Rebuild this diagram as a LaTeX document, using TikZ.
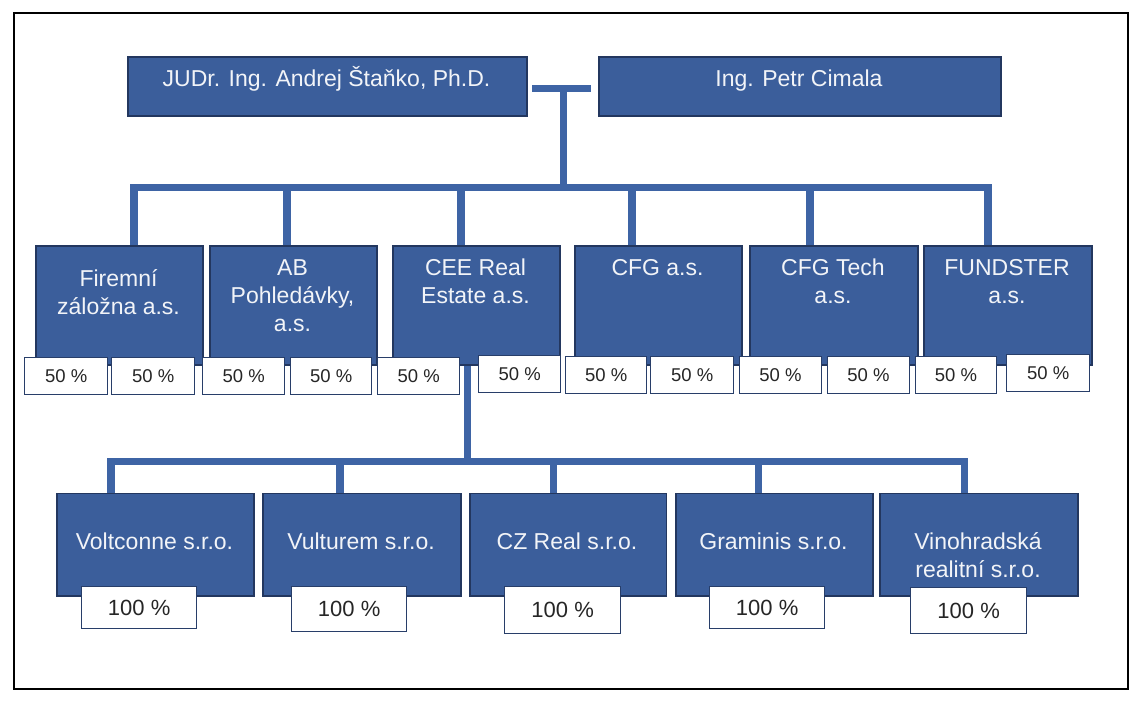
\documentclass[tikz,border=0pt]{standalone}
\usepackage{fontspec}
\setmainfont{Liberation Sans}
\definecolor{boxblue}{RGB}{59,94,155}
\definecolor{boxedge}{RGB}{35,55,95}
\definecolor{linkblue}{RGB}{62,100,165}
\definecolor{pctedge}{RGB}{40,62,105}
\definecolor{txtwhite}{RGB}{242,244,248}

\begin{document}
\begin{tikzpicture}[x=1pt,y=1pt,yscale=-1,xscale=1,
  corp/.style={draw=boxedge,fill=boxblue,line width=1.5pt,anchor=north west,inner sep=0pt},
  corptext/.style={text=txtwhite,anchor=base,align=center,inner sep=0pt,font=\fontsize{23}{28.3}\selectfont},
  pct/.style={draw=pctedge,fill=white,line width=1.3pt,anchor=north west,inner sep=0pt,text=black!85,font=\fontsize{18.5}{20}\selectfont},
  pctbig/.style={pct,font=\fontsize{22}{24}\selectfont},
  link/.style={draw=linkblue,line width=7.5pt}]
\useasboundingbox (0,0) rectangle (1148,712);

%Frame
\draw [line width=2.7pt] (14,13) rectangle (1128,689);

%Connector points
\coordinate (tL) at (532,88.5);
\coordinate (tR) at (591,88.5);
\coordinate (tM) at (563.5,88.5);
\coordinate (bA) at (134,187.5);
\coordinate (bB) at (287,187.5);
\coordinate (bC) at (461,187.5);
\coordinate (bD) at (632,187.5);
\coordinate (bE) at (810,187.5);
\coordinate (bF) at (988,187.5);
\coordinate (dC) at (467.5,461.5);
\coordinate (lA) at (111,461.5);
\coordinate (lB) at (340,461.5);
\coordinate (lC) at (553.5,461.5);
\coordinate (lD) at (758.5,461.5);
\coordinate (lE) at (964.5,461.5);

%Owners
\node [corp,minimum width=399pt,minimum height=59pt] (stanko) at (127,56) {};
\node [corp,minimum width=402pt,minimum height=59pt] (cimala) at (598,56) {};
% Text Node
\node [corptext] (stankoT) at (326.5,86.7) {JUDr. Ing. Andrej Štaňko, Ph.D.};
% Text Node
\node [corptext] (cimalaT) at (799,86.7) {Ing. Petr Cimala};

%Companies a.s.
\node [corp,minimum width=167pt,minimum height=119pt] (firemni) at (35,245) {};
\node [corp,minimum width=167pt,minimum height=119pt] (ab) at (209,245) {};
\node [corp,minimum width=167pt,minimum height=119pt] (cee) at (392,245) {};
\node [corp,minimum width=167pt,minimum height=119pt] (cfg) at (574,245) {};
\node [corp,minimum width=168pt,minimum height=119pt] (cfgtech) at (749,245) {};
\node [corp,minimum width=168pt,minimum height=119pt] (fundster) at (923,245) {};
% Text Node (base = last line)
\node [corptext] (firemniT) at (118.5,314.3) {Firemní\\záložna a.s.};
\node [corptext] (abT) at (292.5,331.6) {AB\\Pohledávky,\\a.s.};
\node [corptext] (ceeT) at (475.5,303.3) {CEE Real\\Estate a.s.};
\node [corptext] (cfgT) at (657.5,275) {CFG a.s.};
\node [corptext] (cfgtechT) at (833,303.3) {CFG Tech\\a.s.};
\node [corptext] (fundsterT) at (1007,303.3) {FUNDSTER\\a.s.};

%Connectors top
\draw [link] (tL) -- (tR);
\draw [link] (tM) -- (tM |- bA);
\draw [link] (bA |- firemni.north) -- (bA) -- (bF) -- (bF |- fundster.north);
\draw [link] (bB) -- (bB |- ab.north);
\draw [link] (bC) -- (bC |- cee.north);
\draw [link] (bD) -- (bD |- cfg.north);
\draw [link] (bE) -- (bE |- cfgtech.north);

%Shares 50 %
\node [pct,minimum width=83pt,minimum height=37pt] (p1a) at (24,357) {50 \%};
\node [pct,minimum width=83pt,minimum height=37pt] (p1b) at (111,357) {50 \%};
\node [pct,minimum width=82pt,minimum height=37pt] (p2a) at (202,357) {50 \%};
\node [pct,minimum width=81pt,minimum height=37pt] (p2b) at (290,357) {50 \%};
\node [pct,minimum width=82pt,minimum height=37pt] (p3a) at (377,357) {50 \%};
\node [pct,minimum width=82pt,minimum height=37pt] (p3b) at (478,355) {50 \%};
\node [pct,minimum width=81pt,minimum height=37pt] (p4a) at (565,356) {50 \%};
\node [pct,minimum width=83pt,minimum height=37pt] (p4b) at (650,356) {50 \%};
\node [pct,minimum width=82.5pt,minimum height=37pt] (p5a) at (738.5,356) {50 \%};
\node [pct,minimum width=82.5pt,minimum height=37pt] (p5b) at (826.5,356) {50 \%};
\node [pct,minimum width=81.5pt,minimum height=37pt] (p6a) at (914.5,356) {50 \%};
\node [pct,minimum width=83pt,minimum height=37pt] (p6b) at (1006,354) {50 \%};

%Connectors bottom
\draw [link] (dC |- cee.south) -- (dC);
\draw [link] (lA |- 0,492.7) -- (lA) -- (lE) -- (lE |- 0,492.7);
\draw [link] (lB) -- (lB |- 0,492.7);
\draw [link] (lC) -- (lC |- 0,492.7);
\draw [link] (lD) -- (lD |- 0,492.7);

%Companies s.r.o.
\node [corp,minimum width=197pt,minimum height=102.3pt] (voltconne) at (56,492.7) {};
\node [corp,minimum width=198pt,minimum height=102.3pt] (vulturem) at (262,492.7) {};
\node [corp,minimum width=196.6pt,minimum height=102.3pt] (czreal) at (469,492.7) {};
\node [corp,minimum width=197pt,minimum height=102.3pt] (graminis) at (675,492.7) {};
\node [corp,minimum width=198pt,minimum height=102.3pt] (vinohrad) at (879,492.7) {};
% Text Node
\node [corptext] (voltconneT) at (154.5,549) {Voltconne s.r.o.};
\node [corptext] (vulturemT) at (361,549) {Vulturem s.r.o.};
\node [corptext] (czrealT) at (567,549) {CZ Real s.r.o.};
\node [corptext] (graminisT) at (773.5,549) {Graminis s.r.o.};
\node [corptext] (vinohradT) at (978,577.3) {Vinohradská\\realitní s.r.o.};

%Shares 100 %
\node [pctbig,minimum width=115pt,minimum height=42pt] (q1) at (81,586) {100 \%};
\node [pctbig,minimum width=115pt,minimum height=45pt] (q2) at (291,586) {100 \%};
\node [pctbig,minimum width=116pt,minimum height=47pt] (q3) at (504,586) {100 \%};
\node [pctbig,minimum width=115pt,minimum height=42pt] (q4) at (709,586) {100 \%};
\node [pctbig,minimum width=116pt,minimum height=46pt] (q5) at (910,587) {100 \%};

\end{tikzpicture}
\end{document}
